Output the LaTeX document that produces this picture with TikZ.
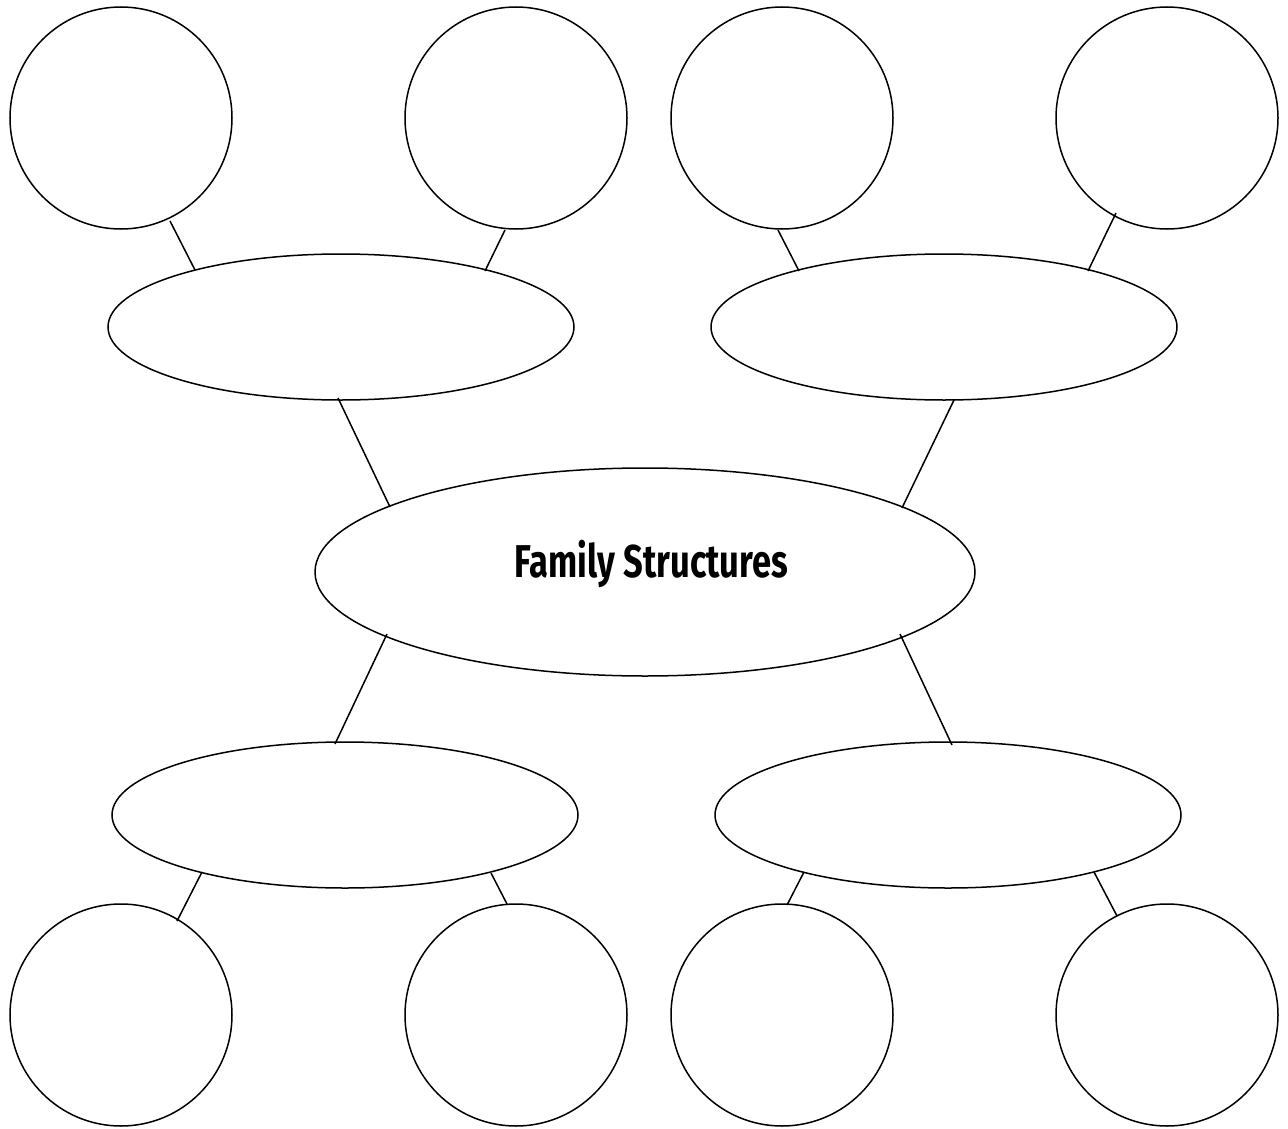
\documentclass[tikz,border=0pt]{standalone}
\usepackage{fontspec}
\setmainfont{Fira Sans}
\newfontfamily\labelfont[FakeStretch=0.75]{Fira Sans}
\usetikzlibrary{shapes.geometric,calc}
\begin{document}
\begin{tikzpicture}[x=1pt,y=-1pt,
  ring/.style={circle,draw=black,line width=1.5pt,minimum size=222pt,inner sep=0pt},
  oval/.style={ellipse,draw=black,line width=1.5pt,minimum width=466pt,minimum height=146pt,inner sep=0pt},
  bigoval/.style={ellipse,draw=black,line width=1.5pt,minimum width=660pt,minimum height=208pt,inner sep=0pt},
  link/.style={draw=black,line width=1.5pt}]
\useasboundingbox[fill=white] (0,0) rectangle (1288,1129);
% circles
\node[ring] (c1) at (121,118) {};
\node[ring] (c2) at (516,118) {};
\node[ring] (c3) at (782,118) {};
\node[ring] (c4) at (1167,118) {};
\node[ring] (c5) at (121,1015) {};
\node[ring] (c6) at (516,1015) {};
\node[ring] (c7) at (782,1015) {};
\node[ring] (c8) at (1167,1015) {};
% ellipses
\node[oval] (e1) at (341,327) {};
\node[oval] (e2) at (944,327) {};
\node[oval] (e3) at (345,815) {};
\node[oval] (e4) at (948,815) {};
\node[bigoval] (E) at (645,572) {};
\node[font=\labelfont\bfseries\fontsize{46}{50}\selectfont,anchor=base,inner sep=0pt] (t) at (651.5,577) {Family Structures};
% connectors (end points relative to the node centres)
\path[link] ($(c1)+(49,103)$) -- ($(e1)+(-146,-57)$);
\path[link] ($(c2)+(-11,112)$) -- ($(e1)+(144,-56)$);
\path[link] ($(c3)+(-4,112)$) -- ($(e2)+(-145,-56)$);
\path[link] ($(c4)+(-51,95)$) -- ($(e2)+(144,-56)$);
\path[link] ($(e1)+(-3,71)$) -- ($(E)+(-255,-65)$);
\path[link] ($(e2)+(10,73)$) -- ($(E)+(257,-64)$);
\path[link] ($(E)+(-258,62)$) -- ($(e3)+(-10,-71)$);
\path[link] ($(E)+(255,62)$) -- ($(e4)+(4,-70)$);
\path[link] ($(e3)+(-143,57)$) -- ($(c5)+(56,-94)$);
\path[link] ($(e3)+(146,58)$) -- ($(c6)+(-9,-111)$);
\path[link] ($(e4)+(-144,57)$) -- ($(c7)+(5,-110)$);
\path[link] ($(e4)+(146,57)$) -- ($(c8)+(-50,-99)$);
\end{tikzpicture}
\end{document}
